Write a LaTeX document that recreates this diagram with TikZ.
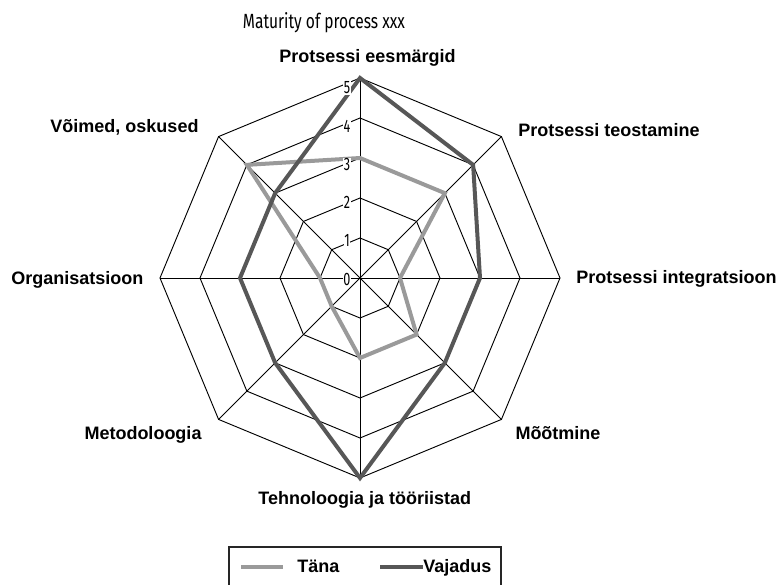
\documentclass[tikz,border=0pt]{standalone}
\usepackage{graphicx}
\usepackage{fontspec}
\setmainfont{Liberation Sans}
\newfontfamily\condfont[FakeStretch=0.7]{Fira Sans}

\definecolor{todaygray}{HTML}{9A9A9A}
\definecolor{needgray}{HTML}{575757}

\begin{document}
\begin{tikzpicture}[x=0.75pt,y=0.75pt,
  grid/.style={black, line width=0.7pt},
  series/.style={line width=3pt, line join=miter},
  today/.style={series, draw=todaygray},
  need/.style={series, draw=needgray},
  axislabel/.style={font=\bfseries\fontsize{13.5}{16}\selectfont, anchor=base, inner sep=0pt},
  ticklabel/.style={font=\condfont\fontsize{13.5}{14}\selectfont, fill=white, inner sep=0.5pt},
  legendbox/.style={draw=black!85, line width=0.8pt},
]
\useasboundingbox (0,-585) rectangle (783,0);

% title
\node[anchor=base west, inner sep=0pt] (title) at (242.7,-28.3)
  {\resizebox{121.5pt}{12pt}{\condfont Maturity of process xxx}};

% radar grid, one level = 40 units
\begin{scope}[shift={(360,-278)}]
  \coordinate (O) at (0,0);
  \foreach \i in {0,...,7} { \coordinate (ax\i) at ({90-45*\i}:200); }
  \foreach \r in {1,...,5}
    \draw[grid] (90:{\r*40}) \foreach \k in {1,...,7} { -- ({90-45*\k}:{\r*40}) } -- cycle;
  \foreach \i in {0,...,7} \draw[grid] (O) -- (ax\i);

  % data series
  \draw[today] (90:120) -- (45:120) -- (0:40) -- (-45:80) -- (-90:80)
               -- (-135:40) -- (180:40) -- (135:160) -- cycle;
  \draw[need]  (90:200) -- (45:160) -- (0:120) -- (-45:120) -- (-90:200)
               -- (-135:120) -- (180:120) -- (135:120) -- cycle;

  % scale values
  \foreach \k in {0,...,5}
    \node[ticklabel] (tick\k) at (-13,{38.2*\k-1}) {\k};
\end{scope}

% axis names
\node[axislabel] (lab0) at (367.5,-62.7) {Protsessi eesmärgid};
\node[axislabel] (lab1) at (609,-136.7) {Protsessi teostamine};
\node[axislabel] (lab2) at (676.5,-283.3) {Protsessi integratsioon};
\node[axislabel] (lab3) at (558,-439) {Mõõtmine};
\node[axislabel] (lab4) at (364.7,-504.3) {Tehnoloogia ja tööriistad};
\node[axislabel] (lab5) at (143,-439) {Metodoloogia};
\node[axislabel] (lab6) at (77.3,-284) {Organisatsioon};
\node[axislabel] (lab7) at (124.5,-133) {Võimed, oskused};

% legend
\coordinate (lb1) at (229,-586);
\coordinate (lb2) at (229,-547);
\coordinate (lb3) at (501,-547);
\coordinate (lb4) at (501,-586);
\draw[legendbox] (lb1) -- (lb2) -- (lb3) -- (lb4);
\coordinate (sw1a) at (241,-567);
\coordinate (sw1b) at (283,-567);
\coordinate (sw2a) at (380,-567);
\coordinate (sw2b) at (423,-567);
\draw[today, line cap=butt] (sw1a) -- (sw1b);
\draw[need, line cap=butt] (sw2a) -- (sw2b);
\node[axislabel, anchor=base west] (legtoday) at (297,-572.7) {Täna};
\node[axislabel, anchor=base west] (legneed) at (423,-572.7) {Vajadus};
\end{tikzpicture}
\end{document}
